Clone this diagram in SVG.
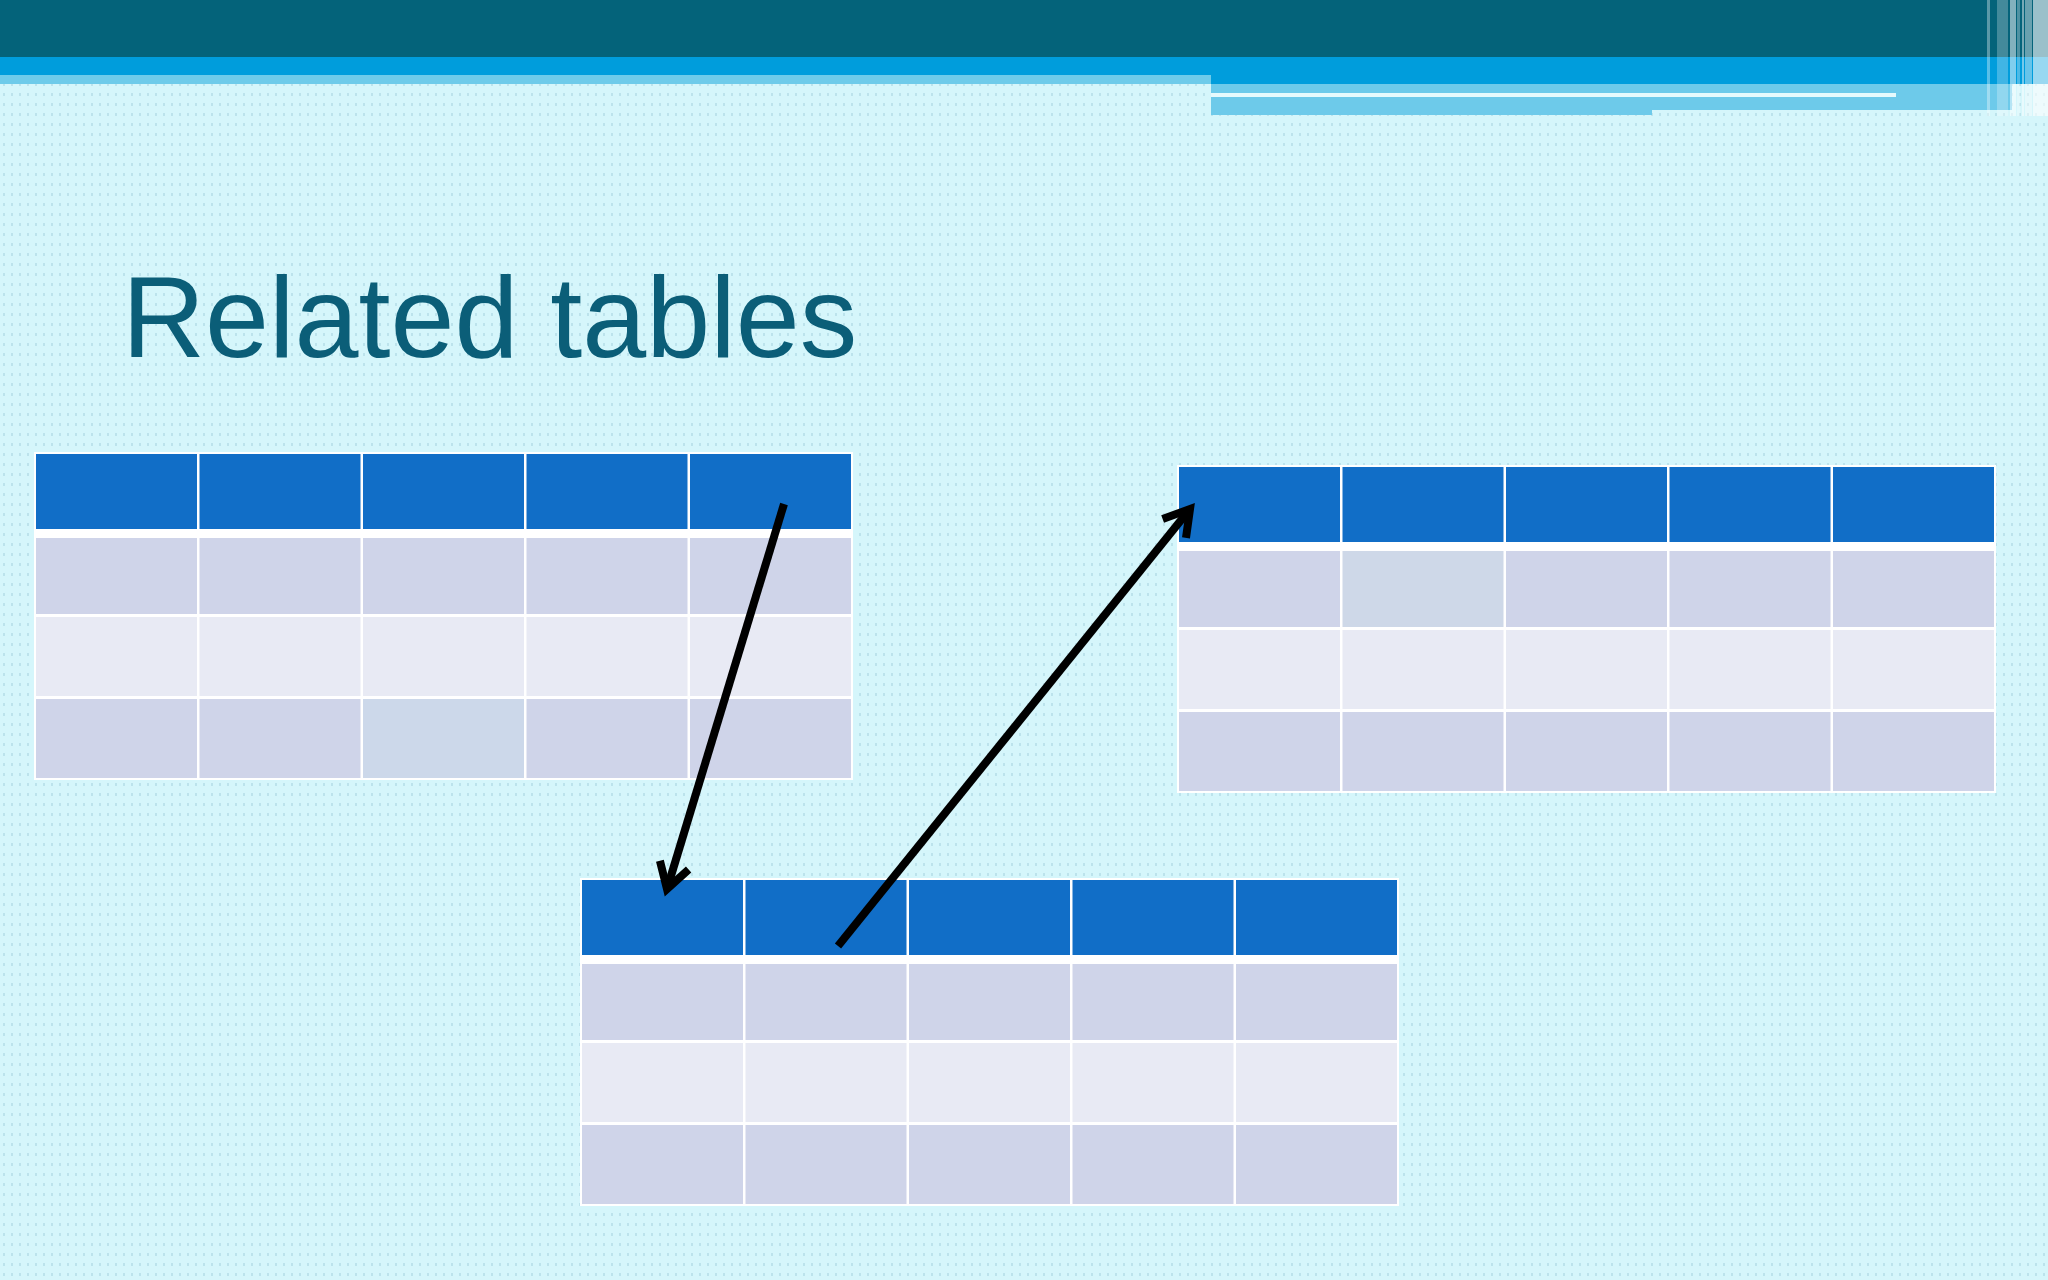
<svg xmlns="http://www.w3.org/2000/svg" width="2048" height="1280" viewBox="0 0 2048 1280">
<style>
.bd{fill:#FFFFFF}
.hd{fill:#116EC7}
.ra{fill:#CFD4E9}
.rb{fill:#E8EAF4}
.conn{stroke:#000000;stroke-width:8;fill:none}
.title{font-family:"Liberation Sans",Arial,sans-serif;font-size:115px;fill:#0B5E78}
</style>
<defs>
<pattern id="dots" width="8" height="10" patternUnits="userSpaceOnUse">
<rect x="3" y="3" width="2" height="3" fill="#BCE3EC"/>
</pattern>
<marker id="arr" markerUnits="userSpaceOnUse" markerWidth="60" markerHeight="60" viewBox="-40 -30 60 60" refX="0" refY="0" orient="auto">
<path d="M -25 -15 L 0 0 L -25 15" fill="none" stroke="#000000" stroke-width="8" stroke-linejoin="miter"/>
</marker>
</defs>
<rect x="0" y="0" width="2048" height="1280" fill="#D5F6FB"/>
<rect x="0" y="84" width="2048" height="1196" fill="url(#dots)"/>
<g id="banner">
<rect x="0" y="0" width="2048" height="57" fill="#04637A"/>
<rect x="0" y="57" width="2048" height="18" fill="#009DDC"/>
<rect x="0" y="75" width="1211" height="9" fill="#6ECBEA"/>
<rect x="1211" y="57" width="837" height="27" fill="#009DDC"/>
<rect x="1211" y="84" width="441" height="31" fill="#6DCAEA"/>
<rect x="1652" y="84" width="360" height="26" fill="#6DCAEA"/>
<rect x="1211" y="93" width="685" height="4" fill="#E6FAFD"/>
<g fill="#FFFFFF">
<rect x="1987" y="0" width="3" height="116" opacity="0.35"/>
<rect x="1997" y="0" width="11" height="116" opacity="0.25"/>
<rect x="2010" y="0" width="6" height="116" opacity="0.5"/>
<rect x="2017" y="0" width="3" height="116" opacity="0.3"/>
<rect x="2022" y="0" width="2" height="116" opacity="0.45"/>
<rect x="2025" y="0" width="7" height="116" opacity="0.4"/>
<rect x="2033" y="0" width="15" height="116" opacity="0.6"/>
</g>
</g>
<text class="title" x="122" y="357">Related tables</text>
<g id="table-1" transform="translate(34,452)">
<rect class="bd" x="0" y="0" width="819" height="328"/>
<rect class="hd" x="2" y="2" width="161" height="75"/><rect class="hd" x="165.5" y="2" width="161" height="75"/><rect class="hd" x="329" y="2" width="161" height="75"/><rect class="hd" x="492.5" y="2" width="161" height="75"/><rect class="hd" x="656" y="2" width="161" height="75"/>
<rect class="ra" x="2" y="86" width="161" height="76"/><rect class="ra" x="165.5" y="86" width="161" height="76"/><rect class="ra" x="329" y="86" width="161" height="76"/><rect class="ra" x="492.5" y="86" width="161" height="76"/><rect class="ra" x="656" y="86" width="161" height="76"/>
<rect class="rb" x="2" y="165" width="161" height="79"/><rect class="rb" x="165.5" y="165" width="161" height="79"/><rect class="rb" x="329" y="165" width="161" height="79"/><rect class="rb" x="492.5" y="165" width="161" height="79"/><rect class="rb" x="656" y="165" width="161" height="79"/>
<rect class="ra" x="2" y="247" width="161" height="79"/><rect class="ra" x="165.5" y="247" width="161" height="79"/><rect class="ra" x="329" y="247" width="161" height="79" style="fill:#CCD8EA"/><rect class="ra" x="492.5" y="247" width="161" height="79"/><rect class="ra" x="656" y="247" width="161" height="79"/>
</g>
<g id="table-2" transform="translate(1177,465)">
<rect class="bd" x="0" y="0" width="819" height="328"/>
<rect class="hd" x="2" y="2" width="161" height="75"/><rect class="hd" x="165.5" y="2" width="161" height="75"/><rect class="hd" x="329" y="2" width="161" height="75"/><rect class="hd" x="492.5" y="2" width="161" height="75"/><rect class="hd" x="656" y="2" width="161" height="75"/>
<rect class="ra" x="2" y="86" width="161" height="76"/><rect class="ra" x="165.5" y="86" width="161" height="76" style="fill:#CED8E8"/><rect class="ra" x="329" y="86" width="161" height="76"/><rect class="ra" x="492.5" y="86" width="161" height="76"/><rect class="ra" x="656" y="86" width="161" height="76"/>
<rect class="rb" x="2" y="165" width="161" height="79"/><rect class="rb" x="165.5" y="165" width="161" height="79"/><rect class="rb" x="329" y="165" width="161" height="79"/><rect class="rb" x="492.5" y="165" width="161" height="79"/><rect class="rb" x="656" y="165" width="161" height="79"/>
<rect class="ra" x="2" y="247" width="161" height="79"/><rect class="ra" x="165.5" y="247" width="161" height="79"/><rect class="ra" x="329" y="247" width="161" height="79"/><rect class="ra" x="492.5" y="247" width="161" height="79"/><rect class="ra" x="656" y="247" width="161" height="79"/>
</g>
<g id="table-3" transform="translate(580,878)">
<rect class="bd" x="0" y="0" width="819" height="328"/>
<rect class="hd" x="2" y="2" width="161" height="75"/><rect class="hd" x="165.5" y="2" width="161" height="75"/><rect class="hd" x="329" y="2" width="161" height="75"/><rect class="hd" x="492.5" y="2" width="161" height="75"/><rect class="hd" x="656" y="2" width="161" height="75"/>
<rect class="ra" x="2" y="86" width="161" height="76"/><rect class="ra" x="165.5" y="86" width="161" height="76"/><rect class="ra" x="329" y="86" width="161" height="76"/><rect class="ra" x="492.5" y="86" width="161" height="76"/><rect class="ra" x="656" y="86" width="161" height="76"/>
<rect class="rb" x="2" y="165" width="161" height="79"/><rect class="rb" x="165.5" y="165" width="161" height="79"/><rect class="rb" x="329" y="165" width="161" height="79"/><rect class="rb" x="492.5" y="165" width="161" height="79"/><rect class="rb" x="656" y="165" width="161" height="79"/>
<rect class="ra" x="2" y="247" width="161" height="79"/><rect class="ra" x="165.5" y="247" width="161" height="79"/><rect class="ra" x="329" y="247" width="161" height="79"/><rect class="ra" x="492.5" y="247" width="161" height="79"/><rect class="ra" x="656" y="247" width="161" height="79"/>
</g>
<g id="connectors">
<line class="conn" x1="784" y1="504" x2="667" y2="889" marker-end="url(#arr)"/>
<line class="conn" x1="838" y1="946" x2="1190" y2="509" marker-end="url(#arr)"/>
</g>
</svg>
